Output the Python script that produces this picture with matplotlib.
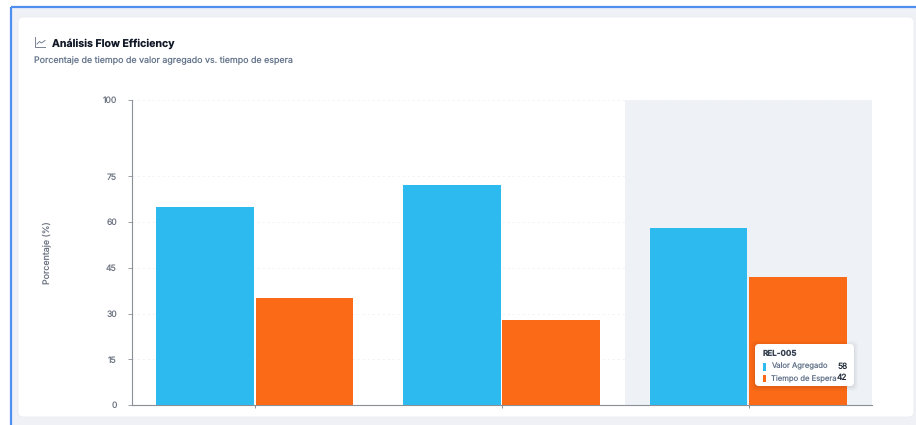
import numpy as np
import matplotlib
matplotlib.use("Agg")
import matplotlib.pyplot as plt
from matplotlib.patches import FancyBboxPatch, Rectangle

plt.rcParams["font.family"] = ["Inter", "DejaVu Sans"]
plt.rcParams["text.hinting"] = "no_hinting"

# Data (tick labels are cut off, only REL-005 is readable)
releases = ["REL-003", "REL-004", "REL-005"]
valor_agregado = [65, 72, 58]
tiempo_espera = [35, 28, 42]
y_ticks = [0, 15, 30, 45, 60, 75, 100]

W, H = 916, 425
fig = plt.figure(figsize=(W / 100, H / 100), dpi=100, facecolor="white")

# page background and card, in pixel coordinates
bg = fig.add_axes([0, 0, 1, 1], zorder=0)
bg.set_xlim(0, W)
bg.set_ylim(H, 0)
bg.axis("off")
bg.add_patch(Rectangle((11, 7), W - 11, H - 7, fc="#eff1f6", ec="none"))
bg.plot([11, 11], [7, H], color="#4f8ff0", lw=1.6, solid_capstyle="butt")
bg.plot([11, W], [7, 7], color="#4f8ff0", lw=1.6, solid_capstyle="butt")
bg.add_patch(FancyBboxPatch((18, 17), 896, 400, boxstyle="round,pad=0,rounding_size=5",
                            fc="white", ec="#e9ecf1", lw=0.6))

# line chart icon next to the title
bg.plot([34.5, 34.5, 45], [37, 47, 47], color="#7b8494", lw=0.7)
bg.plot([37, 39.5, 41.5, 45], [44, 41.5, 43, 40.5], color="#7b8494", lw=0.7)

bg.text(52, 43.5, "Análisis Flow Efficiency", fontsize=7.6, fontweight="bold",
        color="#111827", va="center", ha="left")
bg.text(34, 61, "Porcentaje de tiempo de valor agregado vs. tiempo de espera",
        fontsize=6.4, color="#64748b", va="center", ha="left")

# main chart
ax = fig.add_axes([131.5 / W, (H - 405) / H, 740.5 / W, 305 / H], zorder=1)
ax.patch.set_alpha(0)
x = np.arange(len(releases))
width = 0.395
ax.axvspan(1.5, 2.5, color="#eef1f6", lw=0, zorder=0)
ax.bar(x - 0.202, valor_agregado, width, color="#2dbaee", zorder=3)
ax.bar(x + 0.2, tiempo_espera, width, color="#fb6a16", zorder=3)

ax.set_xlim(-0.5, 2.5)
ax.set_ylim(0, 100)
ax.set_yticks(y_ticks)
ax.set_xticks(x)
ax.set_xticklabels([])
ax.tick_params(axis="y", length=3, width=0.7, color="#9a9ea6", labelsize=6.2,
               labelcolor="#6b7280", pad=7.5)
ax.tick_params(axis="x", length=2.2, width=0.7, color="#8a8f98")
ax.grid(axis="y", color="#f1f3f5", lw=0.6, ls=(0, (3, 3)), zorder=1)
ax.set_axisbelow(True)
for side in ["top", "right"]:
    ax.spines[side].set_visible(False)
for side in ["left", "bottom"]:
    ax.spines[side].set_color("#8a8f98")
    ax.spines[side].set_linewidth(0.8)

bg.text(46.5, 253, "Porcentaje (%)", fontsize=6.4, color="#6b7280", rotation=90,
        va="center", ha="center")

# tooltip on top of the bars
tip = fig.add_axes([0, 0, 1, 1], zorder=2)
tip.set_xlim(0, W)
tip.set_ylim(H, 0)
tip.axis("off")
for grow, alpha in [(4, 0.02), (2.5, 0.03), (1, 0.04)]:
    tip.add_patch(FancyBboxPatch((755 - grow, 344 - grow + 1), 99 + 2 * grow, 42 + 2 * grow,
                                 boxstyle="round,pad=0,rounding_size=5", fc="black",
                                 ec="none", alpha=alpha))
tip.add_patch(FancyBboxPatch((755, 344), 99, 42, boxstyle="round,pad=0,rounding_size=4",
                             fc="white", ec="none"))
tip.text(763, 353.5, releases[2], fontsize=5.8, fontweight="bold", color="#374151", va="center")
rows = [("Valor Agregado", valor_agregado[2], "#2dbaee", 366.5),
        ("Tiempo de Espera", tiempo_espera[2], "#fb6a16", 378)]
for name, val, col, py in rows:
    tip.add_patch(Rectangle((762.5, py - 3.5), 3, 7.5, fc=col, ec="none"))
    tip.text(771, py, name, fontsize=5.5, color="#64748b", va="center")
    tip.text(847.5, py, str(val), fontsize=6.0, color="#1f2937", va="center", ha="right")

fig.savefig("out.png", dpi=100)
